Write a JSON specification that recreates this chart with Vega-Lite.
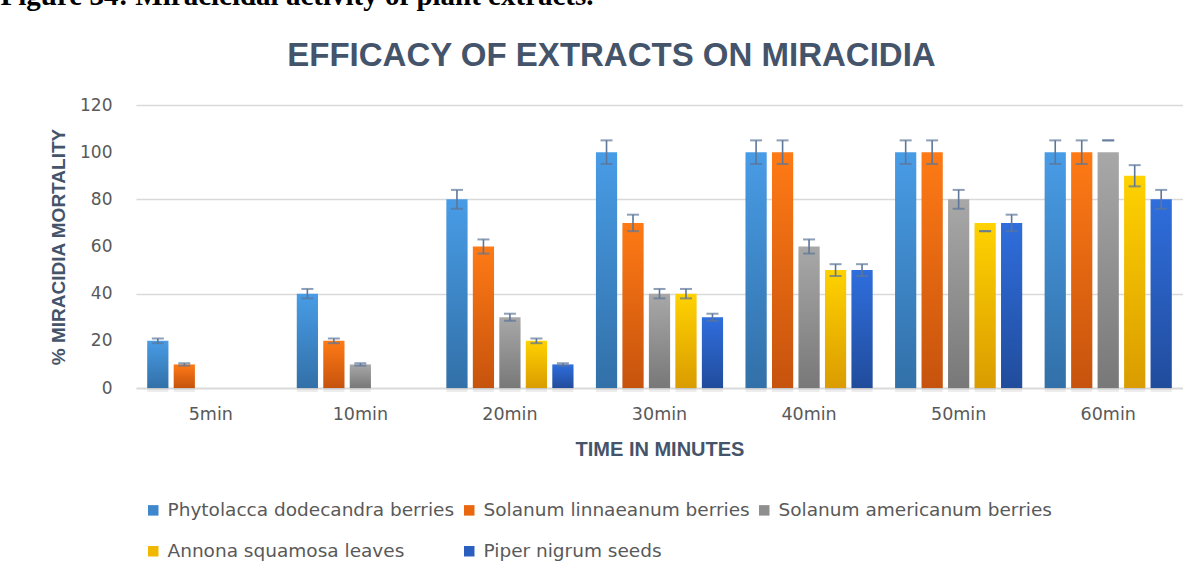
{
  "$schema": "https://vega.github.io/schema/vega-lite/v6.json",
  "background": "white",
  "padding": {"left": 0, "right": 0, "top": -18, "bottom": 0},
  "autosize": {"type": "pad"},
  "spacing": 0,
  "title": {
    "text": "Figure 34: Miracicidal activity of plant extracts.",
    "anchor": "start",
    "frame": "bounds",
    "dx": -49,
    "offset": 29,
    "font": "Liberation Serif",
    "fontSize": 29,
    "fontWeight": "bold",
    "color": "#000000"
  },
  "config": {
    "view": {"stroke": null},
    "axis": {"labelColor": "#595959", "titleColor": "#44546A"}
  },
  "vconcat": [
    {
      "width": 1047,
      "height": 283,
      "title": {
        "text": "EFFICACY OF EXTRACTS ON MIRACIDIA",
        "anchor": "middle",
        "frame": "group",
        "dx": -48,
        "offset": 23,
        "font": "Liberation Sans",
        "fontSize": 33,
        "fontWeight": "bold",
        "color": "#44546A"
      },
      "data": {
        "values": [
          {"time": "5min", "series": "Phytolacca dodecandra berries", "value": 20, "lo": 19, "hi": 21},
          {"time": "5min", "series": "Solanum linnaeanum berries", "value": 10, "lo": 9.5, "hi": 10.5},
          {"time": "5min", "series": "Solanum americanum berries", "value": 0, "lo": null, "hi": null},
          {"time": "5min", "series": "Annona squamosa leaves", "value": 0, "lo": null, "hi": null},
          {"time": "5min", "series": "Piper nigrum seeds", "value": 0, "lo": null, "hi": null},
          {"time": "10min", "series": "Phytolacca dodecandra berries", "value": 40, "lo": 38, "hi": 42},
          {"time": "10min", "series": "Solanum linnaeanum berries", "value": 20, "lo": 19, "hi": 21},
          {"time": "10min", "series": "Solanum americanum berries", "value": 10, "lo": 9.5, "hi": 10.5},
          {"time": "10min", "series": "Annona squamosa leaves", "value": 0, "lo": null, "hi": null},
          {"time": "10min", "series": "Piper nigrum seeds", "value": 0, "lo": null, "hi": null},
          {"time": "20min", "series": "Phytolacca dodecandra berries", "value": 80, "lo": 76, "hi": 84},
          {"time": "20min", "series": "Solanum linnaeanum berries", "value": 60, "lo": 57, "hi": 63},
          {"time": "20min", "series": "Solanum americanum berries", "value": 30, "lo": 28.5, "hi": 31.5},
          {"time": "20min", "series": "Annona squamosa leaves", "value": 20, "lo": 19, "hi": 21},
          {"time": "20min", "series": "Piper nigrum seeds", "value": 10, "lo": 9.5, "hi": 10.5},
          {"time": "30min", "series": "Phytolacca dodecandra berries", "value": 100, "lo": 95, "hi": 105},
          {"time": "30min", "series": "Solanum linnaeanum berries", "value": 70, "lo": 66.5, "hi": 73.5},
          {"time": "30min", "series": "Solanum americanum berries", "value": 40, "lo": 38, "hi": 42},
          {"time": "30min", "series": "Annona squamosa leaves", "value": 40, "lo": 38, "hi": 42},
          {"time": "30min", "series": "Piper nigrum seeds", "value": 30, "lo": 28.5, "hi": 31.5},
          {"time": "40min", "series": "Phytolacca dodecandra berries", "value": 100, "lo": 95, "hi": 105},
          {"time": "40min", "series": "Solanum linnaeanum berries", "value": 100, "lo": 95, "hi": 105},
          {"time": "40min", "series": "Solanum americanum berries", "value": 60, "lo": 57, "hi": 63},
          {"time": "40min", "series": "Annona squamosa leaves", "value": 50, "lo": 47.5, "hi": 52.5},
          {"time": "40min", "series": "Piper nigrum seeds", "value": 50, "lo": 47.5, "hi": 52.5},
          {"time": "50min", "series": "Phytolacca dodecandra berries", "value": 100, "lo": 95, "hi": 105},
          {"time": "50min", "series": "Solanum linnaeanum berries", "value": 100, "lo": 95, "hi": 105},
          {"time": "50min", "series": "Solanum americanum berries", "value": 80, "lo": 76, "hi": 84},
          {"time": "50min", "series": "Annona squamosa leaves", "value": 70, "lo": 66.5, "hi": 66.5},
          {"time": "50min", "series": "Piper nigrum seeds", "value": 70, "lo": 66.5, "hi": 73.5},
          {"time": "60min", "series": "Phytolacca dodecandra berries", "value": 100, "lo": 95, "hi": 105},
          {"time": "60min", "series": "Solanum linnaeanum berries", "value": 100, "lo": 95, "hi": 105},
          {"time": "60min", "series": "Solanum americanum berries", "value": 100, "lo": 105, "hi": 105},
          {"time": "60min", "series": "Annona squamosa leaves", "value": 90, "lo": 85.5, "hi": 94.5},
          {"time": "60min", "series": "Piper nigrum seeds", "value": 80, "lo": 76, "hi": 84}
        ]
      },
      "encoding": {
        "x": {
          "field": "time",
          "type": "nominal",
          "sort": ["5min", "10min", "20min", "30min", "40min", "50min", "60min"],
          "scale": {"paddingInner": 0.15, "paddingOuter": 0.075},
          "axis": {
            "title": "TIME IN MINUTES",
            "labelAngle": 0,
            "labelFont": "DejaVu Sans",
            "labelFontSize": 17.5,
            "labelPadding": 17,
            "ticks": false,
            "domain": true,
            "domainColor": "#D9D9D9",
            "domainWidth": 2,
            "titleFont": "Liberation Sans",
            "titleFontSize": 20,
            "titleFontWeight": "bold",
            "titlePadding": 17
          }
        },
        "xOffset": {
          "field": "series",
          "type": "nominal",
          "sort": ["Phytolacca dodecandra berries", "Solanum linnaeanum berries", "Solanum americanum berries", "Annona squamosa leaves", "Piper nigrum seeds"],
          "scale": {"paddingInner": 0.2, "paddingOuter": 0}
        }
      },
      "layer": [
        {
          "mark": {"type": "bar", "color": "#000000", "opacity": 0.07, "xOffset": 4, "yOffset": 4},
          "encoding": {
            "y": {"field": "value", "type": "quantitative"}
          }
        },
        {
          "mark": {"type": "bar"},
          "encoding": {
            "y": {
              "field": "value",
              "type": "quantitative",
              "scale": {"domain": [0, 120], "nice": false},
              "axis": {
                "title": "% MIRACIDIA MORTALITY",
                "values": [0, 20, 40, 60, 80, 100, 120],
                "labelFont": "DejaVu Sans",
                "labelFontSize": 17,
                "labelPadding": 24,
                "ticks": false,
                "domain": false,
                "grid": true,
                "gridColor": "#D9D9D9",
                "gridWidth": 1.3,
                "gridOpacity": {"condition": {"test": "datum.value % 40 === 0 && datum.value > 0", "value": 1}, "value": 0},
                "titleFont": "Liberation Sans",
                "titleFontSize": 19,
                "titleFontWeight": "bold",
                "titlePadding": 11
              }
            },
            "color": {
              "condition": [
                {"test": "datum.series === 'Phytolacca dodecandra berries'", "value": {"gradient": "linear", "x1": 0, "y1": 0, "x2": 0, "y2": 1, "stops": [{"offset": 0, "color": "#489CE6"}, {"offset": 1, "color": "#3270A8"}]}},
                {"test": "datum.series === 'Solanum linnaeanum berries'", "value": {"gradient": "linear", "x1": 0, "y1": 0, "x2": 0, "y2": 1, "stops": [{"offset": 0, "color": "#FF7A15"}, {"offset": 1, "color": "#C6530D"}]}},
                {"test": "datum.series === 'Solanum americanum berries'", "value": {"gradient": "linear", "x1": 0, "y1": 0, "x2": 0, "y2": 1, "stops": [{"offset": 0, "color": "#A8A8A8"}, {"offset": 1, "color": "#787878"}]}},
                {"test": "datum.series === 'Annona squamosa leaves'", "value": {"gradient": "linear", "x1": 0, "y1": 0, "x2": 0, "y2": 1, "stops": [{"offset": 0, "color": "#FFD200"}, {"offset": 1, "color": "#DA9C00"}]}}
              ],
              "value": {"gradient": "linear", "x1": 0, "y1": 0, "x2": 0, "y2": 1, "stops": [{"offset": 0, "color": "#2F6EDD"}, {"offset": 1, "color": "#214C9C"}]}
            }
          }
        },
        {
          "mark": {"type": "square", "opacity": 0, "size": 1},
          "encoding": {
            "y": {"field": "value", "type": "quantitative"},
            "color": {
              "field": "series",
              "type": "nominal",
              "sort": ["Phytolacca dodecandra berries", "Solanum linnaeanum berries", "Solanum americanum berries", "Annona squamosa leaves", "Piper nigrum seeds"],
              "scale": {
                "domain": ["Phytolacca dodecandra berries", "Solanum linnaeanum berries", "Solanum americanum berries", "Annona squamosa leaves", "Piper nigrum seeds"],
                "range": ["#3F87CC", "#E9670F", "#8F8F8F", "#F0B800", "#2A5EBF"]
              },
              "legend": {
                "title": null,
                "orient": "none",
                "legendX": 8,
                "legendY": 396,
                "direction": "horizontal",
                "columns": 3,
                "symbolType": "square",
                "symbolSize": 110,
                "symbolOpacity": 1,
                "symbolStrokeWidth": 0,
                "labelFont": "DejaVu Sans",
                "labelFontSize": 18.5,
                "labelColor": "#595959",
                "labelLimit": 0,
                "labelOffset": 5,
                "columnPadding": 5,
                "rowPadding": 22
              }
            }
          }
        },
        {
          "transform": [{"filter": "datum.value > 0"}],
          "mark": {"type": "rule", "color": "#5D7699", "strokeWidth": 1.6},
          "encoding": {
            "y": {"field": "lo", "type": "quantitative"},
            "y2": {"field": "hi"}
          }
        },
        {
          "transform": [{"filter": "datum.value > 0"}],
          "mark": {"type": "tick", "orient": "horizontal", "color": "#5D7699", "size": 12, "thickness": 2},
          "encoding": {"y": {"field": "hi", "type": "quantitative"}}
        },
        {
          "transform": [{"filter": "datum.value > 0"}],
          "mark": {"type": "tick", "orient": "horizontal", "color": "#5D7699", "size": 12, "thickness": 2},
          "encoding": {"y": {"field": "lo", "type": "quantitative"}}
        }
      ]
    }
  ]
}
